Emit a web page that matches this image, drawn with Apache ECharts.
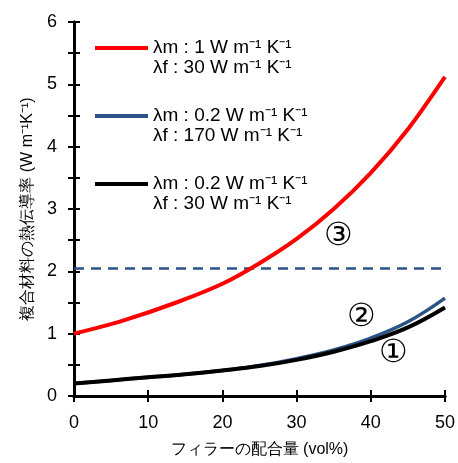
<!DOCTYPE html>
<html>
<head>
<meta charset="utf-8">
<script src="https://cdn.jsdelivr.net/npm/echarts@6/dist/echarts.min.js"></script>
<style>
  html, body { margin: 0; padding: 0; background: #fff; }
  #chart { width: 458px; height: 463px; }
</style>
</head>
<body>
<div id="chart"></div>
<script>
    // filler content (vol%) and composite conductivity
    var redX = [0, 6.6, 13.8, 20, 25, 30, 35, 40, 45, 50];
    var redY = [1.0, 1.21, 1.50, 1.80, 2.13, 2.52, 3.00, 3.58, 4.28, 5.12];
    var lineX = [0, 5, 10, 15, 20, 25, 30, 35, 40, 45, 50];
    var blueY = [0.20, 0.25, 0.30, 0.35, 0.41, 0.49, 0.60, 0.74, 0.93, 1.19, 1.57];
    var blackY = [0.20, 0.25, 0.30, 0.35, 0.41, 0.48, 0.58, 0.71, 0.88, 1.10, 1.42];
    var dashLevel = 2.05;
    var names = [
        'λm : 1 W m⁻¹ K⁻¹\nλf : 30 W m⁻¹ K⁻¹',
        'λm : 0.2 W m⁻¹ K⁻¹\nλf : 170 W m⁻¹ K⁻¹',
        'λm : 0.2 W m⁻¹ K⁻¹\nλf : 30 W m⁻¹ K⁻¹'
    ];
    var marks = [
        {label: '③', x: 35.7, y: 2.56},
        {label: '②', x: 38.8, y: 1.27},
        {label: '①', x: 43.0, y: 0.69}
    ];

    function pairs(xs, ys) {
        return xs.map(function (x, i) { return [x, ys[i]]; });
    }

    var font = '"Liberation Sans", Arial, sans-serif';
    var blue = '#2b5387';
    // line at the top of a taller box so it sits level with the first text row
    var legendIcon = 'path://M0,0H53V4H0Z M0,23.95H0.01V24H0Z';

    var myChart = echarts.init(document.getElementById('chart'));

    var tickStyle = {show: true, inside: true, length: 6, lineStyle: {color: '#000', width: 2}};
    var lineStyle = {show: true, lineStyle: {color: '#000', width: 3}};

    var option = {
        animation: false,
        grid: {left: 74, right: 13, top: 22, bottom: 66},
        legend: {
            orient: 'vertical',
            left: 95,
            top: 38,
            padding: 0,
            itemWidth: 53,
            itemHeight: 24,
            itemGap: 28,
            icon: legendIcon,
            data: names,
            textStyle: {
                fontFamily: font,
                fontSize: 19,
                color: '#000',
                lineHeight: 20
            }
        },
        xAxis: [{
            type: 'value', min: 0, max: 50, interval: 10,
            axisLine: lineStyle, axisTick: tickStyle, splitLine: {show: false},
            axisLabel: {fontFamily: font, fontSize: 18, color: '#000', margin: 18},
            name: 'フィラーの配合量 (vol%)',
            nameLocation: 'middle', nameGap: 46,
            nameTextStyle: {fontFamily: font, fontSize: 16, color: '#000'}
        }, {
            type: 'value', min: 0, max: 50, interval: 10, position: 'top',
            axisLine: lineStyle, axisTick: tickStyle, splitLine: {show: false},
            axisLabel: {show: false}
        }],
        yAxis: [{
            type: 'value', min: 0, max: 6, interval: 0.5,
            axisLine: lineStyle, axisTick: tickStyle, splitLine: {show: false},
            axisLabel: {
                fontFamily: font, fontSize: 18, color: '#000', margin: 17,
                formatter: function (v) { return v % 1 === 0 ? String(v) : ''; }
            },
            name: '複合材料の熱伝導率 (W m⁻¹K⁻¹)',
            nameLocation: 'middle', nameGap: 32, nameRotate: 90,
            nameTextStyle: {fontFamily: font, fontSize: 16, color: '#000'}
        }, {
            type: 'value', min: 0, max: 6, interval: 0.5, position: 'right',
            axisLine: lineStyle, axisTick: tickStyle, splitLine: {show: false},
            axisLabel: {show: false}
        }],
        series: [
            {
                name: names[0], type: 'line', data: pairs(redX, redY),
                smooth: 0.3, showSymbol: false, color: '#ff0000',
                lineStyle: {width: 4, color: '#ff0000'}, z: 5,
                markLine: {
                    silent: true, symbol: 'none',
                    lineStyle: {color: blue, width: 2.5, type: [10, 7]},
                    label: {show: false},
                    data: [{yAxis: dashLevel}]
                },
                markPoint: {
                    symbol: 'circle', symbolSize: 1,
                    itemStyle: {color: 'rgba(0,0,0,0)'},
                    label: {show: true, position: 'inside', fontFamily: font, fontSize: 32, color: '#000',
                        formatter: function (p) { return p.name; }},
                    data: marks.map(function (m) { return {name: m.label, coord: [m.x, m.y]}; })
                }
            },
            {
                name: names[1], type: 'line', data: pairs(lineX, blueY),
                smooth: 0.4, showSymbol: false, color: blue,
                lineStyle: {width: 3.5, color: blue}, z: 3
            },
            {
                name: names[2], type: 'line', data: pairs(lineX, blackY),
                smooth: 0.4, showSymbol: false, color: '#000',
                lineStyle: {width: 4, color: '#000'}, z: 4
            }
        ]
    };
    myChart.setOption(option);
</script>
</body>
</html>
